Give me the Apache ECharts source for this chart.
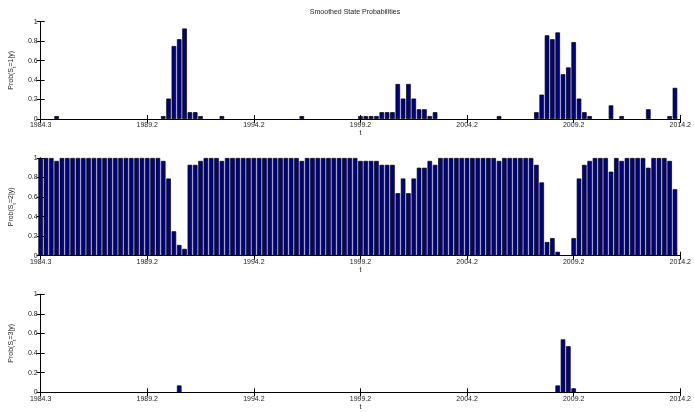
<!DOCTYPE html>
<html>
<head>
<meta charset="utf-8">
<script src="https://cdn.jsdelivr.net/npm/echarts@6/dist/echarts.min.js"></script>
<style>html,body{margin:0;padding:0;background:#fff;}#c{width:694px;height:412px;}</style>
</head>
<body>
<div id="c"></div>
<script>
// Quarter index 0..119 (1984.3 .. 2014.x)
const xTickLabels = ['1984.3','1989.2','1994.2','1999.2','2004.2','2009.2','2014.2'];
const yTickLabels = ['0','0.2','0.4','0.6','0.8','1'];
const seriesNames = ['1', '2', '3'];

const prob1 = [
  0,0,0,0.03,0,0,0,0,0,0,
  0,0,0,0,0,0,0,0,0,0,
  0,0,0,0.03,0.21,0.75,0.82,0.93,0.07,0.07,
  0.03,0,0,0,0.03,0,0,0,0,0,
  0,0,0,0,0,0,0,0,0,0.03,
  0,0,0,0,0,0,0,0,0,0,
  0.03,0.03,0.03,0.03,0.07,0.07,0.07,0.36,0.21,0.36,
  0.21,0.10,0.10,0.03,0.07,0,0,0,0,0,
  0,0,0,0,0,0,0.03,0,0,0,
  0,0,0,0.07,0.25,0.86,0.82,0.89,0.46,0.53,
  0.79,0.21,0.07,0.03,0,0,0,0.14,0,0.03,
  0,0,0,0,0.10,0,0,0,0.03,0.32
];
const prob2 = [
  1,1,1,0.97,1,1,1,1,1,1,
  1,1,1,1,1,1,1,1,1,1,
  1,1,1,0.97,0.79,0.25,0.11,0.07,0.93,0.93,
  0.97,1,1,1,0.97,1,1,1,1,1,
  1,1,1,1,1,1,1,1,1,0.97,
  1,1,1,1,1,1,1,1,1,1,
  0.97,0.97,0.97,0.97,0.93,0.93,0.93,0.64,0.79,0.64,
  0.79,0.90,0.90,0.97,0.93,1,1,1,1,1,
  1,1,1,1,1,1,0.97,1,1,1,
  1,1,1,0.93,0.75,0.14,0.18,0.04,0.004,0.004,
  0.18,0.79,0.93,0.97,1,1,1,0.86,1,0.97,
  1,1,1,1,0.90,1,1,1,0.97,0.68
];
const prob3 = [
  0,0,0,0,0,0,0,0,0,0,
  0,0,0,0,0,0,0,0,0,0,
  0,0,0,0,0,0,0.07,0,0,0,
  0,0,0,0,0,0,0,0,0,0,
  0,0,0,0,0,0,0,0,0,0,
  0,0,0,0,0,0,0,0,0,0,
  0,0,0,0,0,0,0,0,0,0,
  0,0,0,0,0,0,0,0,0,0,
  0,0,0,0,0,0,0,0,0,0,
  0,0,0,0,0,0,0,0.07,0.54,0.47,
  0.04,0,0,0,0,0,0,0,0,0,
  0,0,0,0,0,0,0,0,0,0
];
const probs = [prob1, prob2, prob3];

const FONT = 'Liberation Sans';
const G_LEFT = 36, G_WIDTH = 651.7;
const tops = [21.7, 158, 294.3];
const heights = [97.3, 97.7, 98];
const N = 120;
const barW = G_WIDTH / N * 0.84;

const grids = [], xAxes = [], yAxes = [], series = [];
tops.forEach((t, i) => {
  grids.push({left: G_LEFT, top: t, width: G_WIDTH, height: heights[i]});
  const tick = {show: true, inside: true, length: 4, lineStyle: {color: '#000', width: 1}};
  const line = {show: true, lineStyle: {color: '#000', width: 1}};
  xAxes.push({
    type: 'value', gridIndex: i, position: 'bottom', min: 0, max: N, interval: 20,
    axisLine: line, axisTick: tick, splitLine: {show: false},
    axisLabel: {fontFamily: FONT, fontSize: 7, color: '#222', margin: 3,
      alignMinLabel: 'center', alignMaxLabel: 'center', hideOverlap: false,
      formatter: v => xTickLabels[Math.round(v / 20)]},
    name: 't', nameLocation: 'middle', nameGap: 10,
    nameTextStyle: {fontFamily: FONT, fontSize: 7, color: '#222'}
  });
  xAxes.push({
    type: 'value', gridIndex: i, position: 'top', min: 0, max: N, interval: 20,
    axisLine: line, axisTick: tick, splitLine: {show: false}, axisLabel: {show: false}
  });
  yAxes.push({
    type: 'value', gridIndex: i, position: 'left', min: 0, max: 1, interval: 0.2,
    axisLine: line, axisTick: tick, splitLine: {show: false},
    axisLabel: {fontFamily: FONT, fontSize: 7, color: '#222', margin: 3,
      formatter: v => yTickLabels[Math.round(v / 0.2)]},
    name: '{a|Prob(S}{s|t}{a|=' + seriesNames[i] + '|y)}', nameLocation: 'middle', nameGap: 14, nameRotate: 90,
    nameTextStyle: {fontFamily: FONT, fontSize: 7, color: '#222',
      rich: {a: {fontFamily: FONT, fontSize: 7, color: '#222', verticalAlign: 'bottom'},
             s: {fontFamily: FONT, fontSize: 5, color: '#222', verticalAlign: 'bottom', padding: [0,0,-2,0]}}}
  });
  yAxes.push({
    type: 'value', gridIndex: i, position: 'right', min: 0, max: 1, interval: 0.2,
    axisLine: line, axisTick: tick, splitLine: {show: false}, axisLabel: {show: false}
  });
  series.push({
    type: 'bar', xAxisIndex: 2 * i, yAxisIndex: 2 * i,
    data: probs[i].map((v, k) => v === 0 ? {value: [k, v], itemStyle: {borderWidth: 0}} : [k, v]),
    barWidth: barW, clip: true, silent: true, animation: false,
    itemStyle: {color: '#000088', borderColor: '#000', borderWidth: 0.7}
  });
});

const chart = echarts.init(document.getElementById('c'), null, {renderer: 'canvas'});
chart.setOption({
  animation: false,
  backgroundColor: '#fff',
  grid: grids, xAxis: xAxes, yAxis: yAxes, series: series,
  graphic: [{type: 'text', left: G_LEFT + G_WIDTH / 2 - 52, top: 9,
    style: {text: 'Smoothed State Probabilities', fontFamily: FONT, fontSize: 7, fill: '#222'}}]
});
</script>
</body>
</html>
